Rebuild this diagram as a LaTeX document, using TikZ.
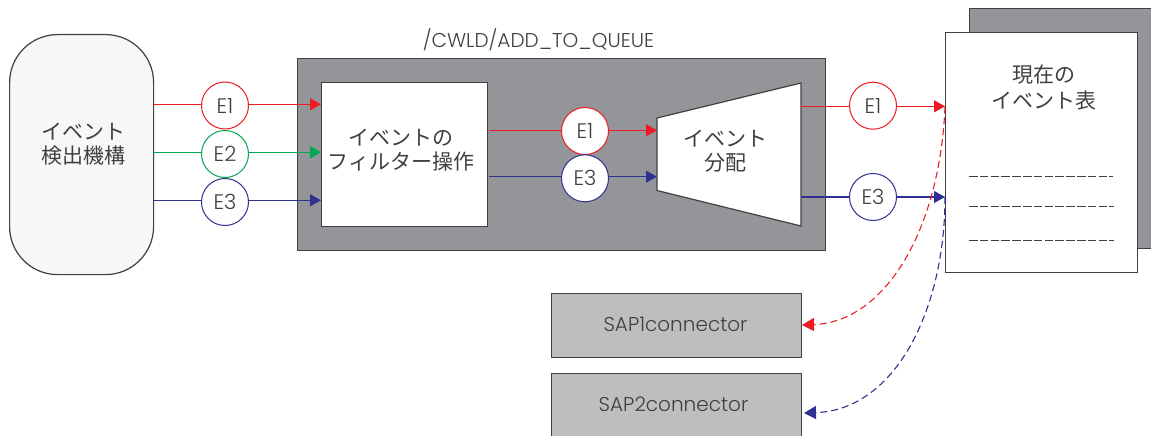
\documentclass[tikz,border=0pt]{standalone}
\usepackage{fontspec}
\setmainfont{Poppins Light}
\newfontfamily\cjk{Noto Sans CJK JP}
\usetikzlibrary{arrows.meta}
\definecolor{rd}{HTML}{ED1C24}
\definecolor{gn}{HTML}{00A651}
\definecolor{bl}{HTML}{2E3192}
\definecolor{dk}{HTML}{939598}
\definecolor{lt}{HTML}{BCBEC0}
\definecolor{ln}{HTML}{404040}
\tikzset{
 x=1pt,y=-1pt,
 box/.style={draw=ln,line width=1.2pt,inner sep=0pt,anchor=north west},
 circ/.style={circle,draw=#1,fill=white,line width=1pt,minimum size=47pt,inner sep=0pt,font=\fontsize{21}{21}\selectfont,text=ln},
 flow/.style={draw=#1,line width=1.2pt,-{Triangle[length=11pt,width=12pt,fill=#1]}},
 plain/.style={draw=#1,line width=1.2pt},
 dsh/.style={draw=#1,line width=1.1pt,dash pattern=on 7pt off 4pt,-{Triangle[length=12pt,width=13pt,fill=#1]}},
 jp/.style={font=\cjk\fontsize{21}{26}\selectfont,align=center,text=ln,inner sep=0pt},
 lbl/.style={font=\fontsize{20}{20}\selectfont,text=ln,inner sep=0pt},
 rule/.style={draw=ln,line width=0.8pt,dash pattern=on 8.6pt off 2.2pt}
}
\begin{document}
\begin{tikzpicture}
\useasboundingbox (0,0) rectangle (1151,436);
\node[box,fill=white!97!black,rounded corners=48pt,minimum width=144pt,minimum height=240pt] (det) at (9,34) {};
\node[jp] (detl) at (83.5,144) {イベント\\[-2pt]検出機構};
\node[box,fill=dk,minimum width=528pt,minimum height=192pt] (proc) at (297,58) {};
\node[lbl] (ptitle) at (538.5,40) {/CWLD/ADD\_TO\_QUEUE};
\node[box,fill=white,minimum width=166pt,minimum height=144pt] (filt) at (321,82) {};
\node[jp] (filtl) at (401,150.5) {イベントの\\[-2pt]フィルター操作};
\node[box,fill=dk,minimum width=190pt,minimum height=240pt] (back) at (969,8) {};
\node[box,fill=white,minimum width=192pt,minimum height=240pt] (tbl) at (945,32) {};
\node[jp] (tbll) at (1043.5,88) {現在の\\イベント表};
\coordinate (r1a) at (969,176);
\coordinate (r1b) at (1113,176);
\coordinate (r2a) at (969,206);
\coordinate (r2b) at (1114,206);
\coordinate (r3a) at (969,240);
\coordinate (r3b) at (1114,240);
\draw[rule] (r1a)--(r1b);
\draw[rule] (r2a)--(r2b);
\draw[rule] (r3a)--(r3b);
\draw[draw=ln,fill=white,line width=1.2pt] (657,118) -- (801,83) -- (801,226) -- (657,190.5) -- cycle;
\node[jp] (distl) at (725,151.5) {イベント\\[-2pt]分配};
\node[box,fill=lt,minimum width=250pt,minimum height=64pt] (s1) at (551,293) {};
\node[lbl] (s1l) at (675.5,324) {SAP1connector};
\node[box,fill=lt,minimum width=250pt,minimum height=70pt] (s2) at (551,373) {};
\node[lbl] (s2l) at (673.5,404) {SAP2connector};
% flows
\node[circ=rd] (a1) at (225,105.5) {E1};
\node[circ=gn] (a2) at (225,154) {E2};
\node[circ=bl] (a3) at (225,202) {E3};
\node[circ=rd] (b1) at (585,131) {E1};
\node[circ=bl] (b3) at (585,178.3) {E3};
\node[circ=rd] (c1) at (873,105.7) {E1};
\node[circ=bl] (c3) at (873,197) {E3};
\coordinate (d1) at (153,104.3); \coordinate (d2) at (153,152.3); \coordinate (d3) at (153,200.3);
\coordinate (f1) at (321,104.3); \coordinate (f2) at (321,152.3); \coordinate (f3) at (321,200.3);
\draw[plain=rd] (d1)--(a1.west|-d1); \draw[flow=rd] (a1.east|-f1)--(f1);
\draw[plain=gn] (d2)--(a2.west|-d2); \draw[flow=gn] (a2.east|-f2)--(f2);
\draw[plain=bl] (d3)--(a3.west|-d3); \draw[flow=bl] (a3.east|-f3)--(f3);
\coordinate (g1) at (489,130.3); \coordinate (g3) at (489,176.7);
\coordinate (h1) at (657,130.3); \coordinate (h3) at (657,176.7);
\draw[plain=rd] (g1)--(b1.west|-g1); \draw[flow=rd] (b1.east|-h1)--(h1);
\draw[plain=bl] (g3)--(b3.west|-g3); \draw[flow=bl] (b3.east|-h3)--(h3);
\coordinate (i1) at (801,106.3); \coordinate (i3) at (801,197);
\coordinate (j1) at (945,106.3); \coordinate (j3) at (945,197);
\draw[plain=rd] (i1)--(c1.west|-i1); \draw[flow=rd] (c1.east|-j1)--(j1);
\draw[plain=bl] (i3)--(c3.west|-i3); \draw[flow=bl] (c3.east|-j3)--(j3);
\coordinate (k1) at (802,325); \coordinate (k3) at (804,413);
\draw[dsh=rd] (j1) .. controls (940,230) and (885,322) .. (k1);
\draw[dsh=bl] (j3) .. controls (945,310) and (895,410) .. (k3);
\end{tikzpicture}
\end{document}
